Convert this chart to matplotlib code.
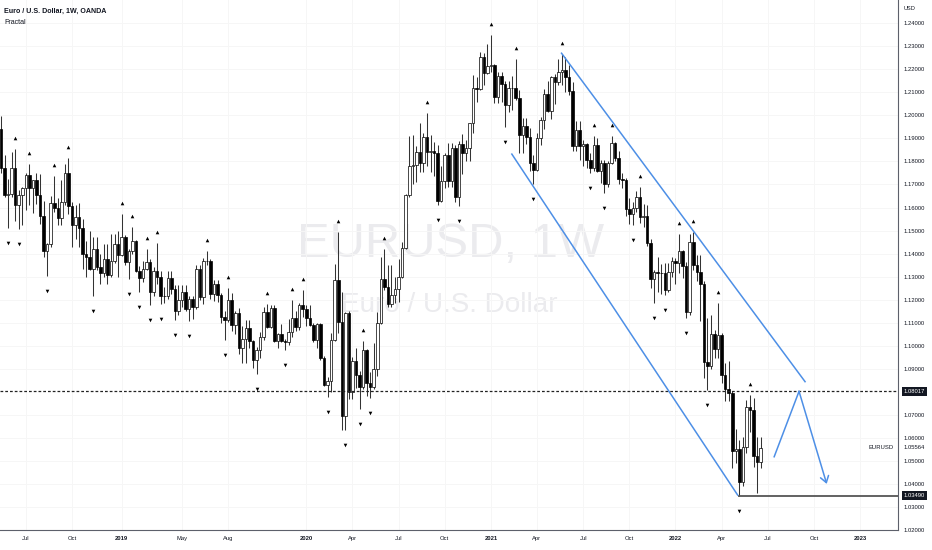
import numpy as np
import pandas as pd
import matplotlib
matplotlib.use("Agg")
import matplotlib.pyplot as plt
from matplotlib import font_manager, transforms

# Weekly EUR/USD candles, first bar = week of 2018-05-14
start_week = "2018-05-14"

opens = [
    # 2018
    1.1940, 1.1770, 1.1655, 1.1660, 1.1770, 1.1610, 1.1655, 1.1685, 1.1740, 1.1685,
    1.1720, 1.1655, 1.1565, 1.1410, 1.1440, 1.1620, 1.1600, 1.1555, 1.1625, 1.1750,
    1.1605, 1.1525, 1.1560, 1.1510, 1.1400, 1.1385, 1.1335, 1.1420, 1.1340, 1.1315,
    1.1375, 1.1305, 1.1370, 1.1440,
    # 2019
    1.1395, 1.1470, 1.1365, 1.1410, 1.1455, 1.1325, 1.1295, 1.1335, 1.1365, 1.1235,
    1.1325, 1.1300, 1.1215, 1.1215, 1.1295, 1.1245, 1.1150, 1.1200, 1.1235, 1.1160,
    1.1205, 1.1170, 1.1335, 1.1210, 1.1370, 1.1370, 1.1225, 1.1270, 1.1220, 1.1125,
    1.1110, 1.1200, 1.1090, 1.1140, 1.0990, 1.1030, 1.1075, 1.1020, 1.0940, 1.0980,
    1.1040, 1.1145, 1.1080, 1.1165, 1.1020, 1.1050, 1.1020, 1.1015, 1.1060, 1.1120,
    1.1080, 1.1175,
    # 2020
    1.1160, 1.1120, 1.1090, 1.1025, 1.1095, 1.0945, 1.0830, 1.0845, 1.1025, 1.1285,
    1.1105, 1.0695, 1.1140, 1.0800, 1.0935, 1.0875, 1.0820, 1.0980, 1.0840, 1.0820,
    1.0900, 1.1100, 1.1290, 1.1255, 1.1180, 1.1220, 1.1245, 1.1300, 1.1425, 1.1655,
    1.1780, 1.1785, 1.1840, 1.1795, 1.1905, 1.1840, 1.1845, 1.1835, 1.1630, 1.1715,
    1.1830, 1.1715, 1.1860, 1.1645, 1.1875, 1.1835, 1.1860, 1.1965, 1.2120, 1.2115,
    1.2255, 1.2185,
    # 2021
    1.2215, 1.2220, 1.2080, 1.2170, 1.2135, 1.2045, 1.2120, 1.2120, 1.2075, 1.1915,
    1.1955, 1.1905, 1.1795, 1.1765, 1.1900, 1.1980, 1.2095, 1.2020, 1.2165, 1.2145,
    1.2190, 1.2195, 1.2165, 1.2105, 1.1865, 1.1935, 1.1865, 1.1875, 1.1805, 1.1770,
    1.1870, 1.1760, 1.1795, 1.1700, 1.1795, 1.1880, 1.1815, 1.1725, 1.1720, 1.1595,
    1.1570, 1.1600, 1.1645, 1.1560, 1.1565, 1.1445, 1.1290, 1.1320, 1.1315, 1.1315,
    1.1240, 1.1320,
    # 2022
    1.1370, 1.1360, 1.1410, 1.1345, 1.1145, 1.1450, 1.1350, 1.1320, 1.1270, 1.0930,
    1.0910, 1.1050, 1.0985, 1.1045, 1.0875, 1.0810, 1.0795, 1.0545, 1.0550, 1.0410,
    1.0560, 1.0735, 1.0720, 1.0520, 1.0495,
]

highs = [
    # 2018
    1.1997, 1.1830, 1.1725, 1.1840, 1.1852, 1.1675, 1.1690, 1.1750, 1.1790, 1.1720,
    1.1750, 1.1745, 1.1630, 1.1445, 1.1650, 1.1735, 1.1640, 1.1720, 1.1790, 1.1815,
    1.1625, 1.1610, 1.1620, 1.1550, 1.1455, 1.1500, 1.1470, 1.1470, 1.1400, 1.1440,
    1.1440, 1.1485, 1.1485, 1.1500,
    # 2019
    1.1570, 1.1480, 1.1420, 1.1515, 1.1460, 1.1345, 1.1370, 1.1420, 1.1375, 1.1340,
    1.1448, 1.1325, 1.1255, 1.1325, 1.1325, 1.1265, 1.1265, 1.1265, 1.1265, 1.1215,
    1.1215, 1.1350, 1.1350, 1.1380, 1.1412, 1.1375, 1.1285, 1.1285, 1.1230, 1.1150,
    1.1250, 1.1230, 1.1150, 1.1165, 1.1085, 1.1110, 1.1110, 1.1025, 1.0995, 1.1060,
    1.1170, 1.1180, 1.1175, 1.1175, 1.1055, 1.1095, 1.1030, 1.1115, 1.1199, 1.1150,
    1.1185, 1.1240,
    # 2020
    1.1175, 1.1175, 1.1100, 1.1100, 1.1100, 1.0955, 1.0865, 1.1055, 1.1355, 1.1495,
    1.1235, 1.1145, 1.1150, 1.0950, 1.0990, 1.0890, 1.1020, 1.0985, 1.0885, 1.1010,
    1.1145, 1.1385, 1.1422, 1.1350, 1.1350, 1.1300, 1.1375, 1.1450, 1.1660, 1.1910,
    1.1915, 1.1865, 1.1965, 1.1925, 1.2011, 1.1915, 1.1885, 1.1870, 1.1780, 1.1835,
    1.1880, 1.1880, 1.1870, 1.1890, 1.1920, 1.1895, 1.1965, 1.2175, 1.2165, 1.2275,
    1.2270, 1.2310,
    # 2021
    1.2349, 1.2225, 1.2190, 1.2190, 1.2150, 1.2150, 1.2170, 1.2243, 1.2110, 1.1990,
    1.1990, 1.1945, 1.1830, 1.1925, 1.1995, 1.2115, 1.2150, 1.2170, 1.2180, 1.2245,
    1.2266, 1.2255, 1.2220, 1.2145, 1.1975, 1.1975, 1.1895, 1.1880, 1.1835, 1.1910,
    1.1900, 1.1805, 1.1805, 1.1800, 1.1910, 1.1885, 1.1845, 1.1750, 1.1730, 1.1640,
    1.1625, 1.1670, 1.1690, 1.1615, 1.1610, 1.1465, 1.1330, 1.1385, 1.1355, 1.1360,
    1.1360, 1.1385,
    # 2022
    1.1380, 1.1483, 1.1415, 1.1365, 1.1485, 1.1495, 1.1395, 1.1395, 1.1280, 1.1120,
    1.1135, 1.1070, 1.1185, 1.1055, 1.0925, 1.0935, 1.0805, 1.0640, 1.0590, 1.0605,
    1.0765, 1.0787, 1.0775, 1.0605, 1.0605,
]

lows = [
    # 2018
    1.1750, 1.1645, 1.1510, 1.1645, 1.1541, 1.1508, 1.1525, 1.1590, 1.1610, 1.1575,
    1.1615, 1.1530, 1.1385, 1.1301, 1.1430, 1.1580, 1.1525, 1.1525, 1.1610, 1.1570,
    1.1430, 1.1465, 1.1430, 1.1335, 1.1300, 1.1330, 1.1216, 1.1330, 1.1270, 1.1300,
    1.1270, 1.1300, 1.1360, 1.1300,
    # 2019
    1.1390, 1.1350, 1.1290, 1.1400, 1.1320, 1.1235, 1.1275, 1.1330, 1.1176, 1.1215,
    1.1270, 1.1180, 1.1185, 1.1205, 1.1225, 1.1110, 1.1135, 1.1170, 1.1150, 1.1107,
    1.1115, 1.1160, 1.1200, 1.1180, 1.1350, 1.1205, 1.1195, 1.1190, 1.1100, 1.1027,
    1.1105, 1.1065, 1.1050, 1.0965, 1.0925, 1.0925, 1.0990, 1.0905, 1.0879, 1.0945,
    1.1025, 1.1075, 1.1075, 1.1015, 1.0990, 1.1015, 1.0981, 1.1005, 1.1040, 1.1065,
    1.1070, 1.1125,
    # 2020
    1.1085, 1.1085, 1.1015, 1.0990, 1.0940, 1.0825, 1.0778, 1.0800, 1.1020, 1.1055,
    1.0636, 1.0635, 1.0770, 1.0770, 1.0815, 1.0727, 1.0810, 1.0780, 1.0775, 1.0810,
    1.0870, 1.1095, 1.1240, 1.1170, 1.1170, 1.1185, 1.1190, 1.1295, 1.1420, 1.1645,
    1.1700, 1.1710, 1.1755, 1.1755, 1.1780, 1.1755, 1.1735, 1.1612, 1.1625, 1.1685,
    1.1690, 1.1690, 1.1622, 1.1605, 1.1745, 1.1800, 1.1800, 1.1925, 1.2060, 1.2110,
    1.2130, 1.2180,
    # 2021
    1.2190, 1.2055, 1.2055, 1.2060, 1.1950, 1.2015, 1.2025, 1.2065, 1.1835, 1.1835,
    1.1875, 1.1760, 1.1704, 1.1760, 1.1870, 1.1940, 1.2015, 1.1985, 1.2050, 1.2130,
    1.2130, 1.2100, 1.2090, 1.1845, 1.1845, 1.1805, 1.1780, 1.1770, 1.1752, 1.1760,
    1.1755, 1.1705, 1.1664, 1.1690, 1.1790, 1.1800, 1.1700, 1.1685, 1.1565, 1.1530,
    1.1525, 1.1580, 1.1535, 1.1515, 1.1435, 1.1250, 1.1186, 1.1235, 1.1225, 1.1220,
    1.1235, 1.1300,
    # 2022
    1.1270, 1.1315, 1.1295, 1.1121, 1.1135, 1.1330, 1.1280, 1.1106, 1.0860, 1.0806,
    1.0900, 1.0945, 1.0945, 1.0840, 1.0760, 1.0760, 1.0470, 1.0490, 1.0349, 1.0390,
    1.0535, 1.0625, 1.0475, 1.0359, 1.0470,
]

closes = [
    # 2018
    1.1770, 1.1655, 1.1660, 1.1770, 1.1610, 1.1655, 1.1685, 1.1740, 1.1685, 1.1720,
    1.1655, 1.1565, 1.1410, 1.1440, 1.1620, 1.1600, 1.1555, 1.1625, 1.1750, 1.1605,
    1.1525, 1.1560, 1.1510, 1.1400, 1.1385, 1.1335, 1.1420, 1.1340, 1.1315, 1.1375,
    1.1305, 1.1370, 1.1440, 1.1395,
    # 2019
    1.1470, 1.1365, 1.1410, 1.1455, 1.1325, 1.1295, 1.1335, 1.1365, 1.1235, 1.1325,
    1.1300, 1.1215, 1.1215, 1.1295, 1.1245, 1.1150, 1.1200, 1.1235, 1.1160, 1.1205,
    1.1170, 1.1335, 1.1210, 1.1370, 1.1370, 1.1225, 1.1270, 1.1220, 1.1125, 1.1110,
    1.1200, 1.1090, 1.1140, 1.0990, 1.1030, 1.1075, 1.1020, 1.0940, 1.0980, 1.1040,
    1.1145, 1.1080, 1.1165, 1.1020, 1.1050, 1.1020, 1.1015, 1.1060, 1.1120, 1.1080,
    1.1175, 1.1160,
    # 2020
    1.1120, 1.1090, 1.1025, 1.1095, 1.0945, 1.0830, 1.0845, 1.1025, 1.1285, 1.1105,
    1.0695, 1.1140, 1.0800, 1.0935, 1.0875, 1.0820, 1.0980, 1.0840, 1.0820, 1.0900,
    1.1100, 1.1290, 1.1255, 1.1180, 1.1220, 1.1245, 1.1300, 1.1425, 1.1655, 1.1780,
    1.1785, 1.1840, 1.1795, 1.1905, 1.1840, 1.1845, 1.1835, 1.1630, 1.1715, 1.1830,
    1.1715, 1.1860, 1.1645, 1.1875, 1.1835, 1.1860, 1.1965, 1.2120, 1.2115, 1.2255,
    1.2185, 1.2215,
    # 2021
    1.2220, 1.2080, 1.2170, 1.2135, 1.2045, 1.2120, 1.2120, 1.2075, 1.1915, 1.1955,
    1.1905, 1.1795, 1.1765, 1.1900, 1.1980, 1.2095, 1.2020, 1.2165, 1.2145, 1.2190,
    1.2195, 1.2165, 1.2105, 1.1865, 1.1935, 1.1865, 1.1875, 1.1805, 1.1770, 1.1870,
    1.1760, 1.1795, 1.1700, 1.1795, 1.1880, 1.1815, 1.1725, 1.1720, 1.1595, 1.1570,
    1.1600, 1.1645, 1.1560, 1.1565, 1.1445, 1.1290, 1.1320, 1.1315, 1.1315, 1.1240,
    1.1320, 1.1370,
    # 2022
    1.1360, 1.1410, 1.1345, 1.1145, 1.1450, 1.1350, 1.1320, 1.1270, 1.0930, 1.0910,
    1.1050, 1.0985, 1.1045, 1.0875, 1.0810, 1.0795, 1.0545, 1.0550, 1.0410, 1.0560,
    1.0735, 1.0720, 1.0520, 1.0495, 1.0556,
]

# time axis labels (first weekly bar of the month)
tick_dates = ["2018-07-02", "2018-10-01", "2019-01-07", "2019-05-06", "2019-08-05",
              "2020-01-06", "2020-04-06", "2020-07-06", "2020-10-05", "2021-01-04",
              "2021-04-05", "2021-07-05", "2021-10-04", "2022-01-03", "2022-04-04",
              "2022-07-04", "2022-10-03", "2023-01-02"]
tick_labels = ["Jul", "Oct", "2019", "May", "Aug", "2020", "Apr", "Jul", "Oct", "2021",
               "Apr", "Jul", "Oct", "2022", "Apr", "Jul", "Oct", "2023"]

price_ticks = [1.02, 1.03, 1.04, 1.05, 1.06, 1.07, 1.09, 1.10, 1.11, 1.12, 1.13,
               1.14, 1.15, 1.16, 1.17, 1.18, 1.19, 1.20, 1.21, 1.22, 1.23, 1.24]

# drawings (bar index, price)
level_dashed = 1.08017
level_low = 1.0349
last_price = 1.05564
upper_x, upper_y = [157.9, 226.5], [1.2270, 1.0844]
lower_x, lower_y = [143.9, 207.5], [1.1832, 1.0352]
zig_x, zig_y = [217.8, 224.8, 232.6], [1.0518, 1.0802, 1.0400]

assert len(opens) == len(highs) == len(lows) == len(closes)

# fonts
available = {f.name for f in font_manager.fontManager.ttflist}
if "Liberation Sans Narrow" in available:
    FONT, K = "Liberation Sans Narrow", 1.0
else:
    FONT, K = "Liberation Sans", 0.82
plt.rcParams["font.family"] = [FONT, "DejaVu Sans"]

TXT = "#131722"
BLUE = "#4d8fe6"

o, h, l, c = map(np.array, (opens, highs, lows, closes))
n = len(c)
x = np.arange(n)
t0 = pd.Timestamp(start_week)
tick_pos = [(pd.Timestamp(d) - t0).days / 7 for d in tick_dates]

fig = plt.figure(figsize=(9.32, 5.5), dpi=100)
ax = fig.add_axes([0, 20 / 550, 898 / 932, 530 / 550])
ax.set_xlim(-0.28, 252.68)
ax.set_ylim(1.0200, 1.2501)

# watermark
ax.text(0.502, 0.515, "EURUSD, 1W", transform=ax.transAxes, ha="center", va="baseline",
        fontsize=43 * K, color="#ebebee", zorder=0)
ax.text(0.5, 0.411, "Euro / U.S. Dollar", transform=ax.transAxes, ha="center", va="baseline",
        fontsize=24.5 * K, color="#ebebee", zorder=0)

# candles
bull = c >= o
ax.vlines(x, l, h, color="#333333", lw=0.75, zorder=2)
ax.bar(x, np.abs(c - o), bottom=np.minimum(o, c), width=0.72,
       color=np.where(bull, "white", "black"), edgecolor="black", lw=0.5, zorder=3)

# Williams fractals (2 bars each side)
up_idx = [i for i in range(2, n - 2) if h[i] > h[i - 2:i].max() and h[i] > h[i + 1:i + 3].max()]
dn_idx = [i for i in range(2, n - 2) if l[i] < l[i - 2:i].min() and l[i] < l[i + 1:i + 3].min()]
up_tr = transforms.offset_copy(ax.transData, fig=fig, y=11, units="dots")
dn_tr = transforms.offset_copy(ax.transData, fig=fig, y=-15, units="dots")
ax.plot(up_idx, h[up_idx], ls="none", marker="^", ms=2.6, mew=0, color="black",
        transform=up_tr, zorder=4)
ax.plot(dn_idx, l[dn_idx], ls="none", marker="v", ms=2.6, mew=0, color="black",
        transform=dn_tr, zorder=4)

# levels
ax.axhline(level_dashed, color="#222222", lw=0.9, dashes=(2.2, 1.6), zorder=4)
ax.hlines(level_low, lower_x[1], ax.get_xlim()[1], color="#555555", lw=1.3, zorder=4)

# channel and projection
ax.plot(upper_x, upper_y, color=BLUE, lw=1.1, zorder=5)
ax.plot(lower_x, lower_y, color=BLUE, lw=1.1, zorder=5)
ax.plot(zig_x[:2], zig_y[:2], color=BLUE, lw=1.1, zorder=5)
ax.annotate("", xy=(zig_x[2], zig_y[2]), xytext=(zig_x[1], zig_y[1]),
            arrowprops=dict(arrowstyle="->,head_length=0.45,head_width=0.3", color=BLUE,
                            lw=1.1, shrinkA=0, shrinkB=0), zorder=5)

# axes styling
ax.yaxis.tick_right()
ax.set_yticks(price_ticks)
ax.set_yticklabels([f"{v:.5f}" for v in price_ticks])
ax.set_xticks(tick_pos)
ax.set_xticklabels(tick_labels)
for lab in ax.get_xticklabels():
    if lab.get_text().isdigit():
        lab.set_fontweight("bold")
ax.tick_params(axis="y", length=0, pad=4.3, labelsize=5.2 * K, labelcolor=TXT)
ax.tick_params(axis="x", length=0, pad=4.5, labelsize=5.2 * K, labelcolor=TXT)
ax.grid(True, color="#f6f6f6", lw=0.7)
ax.set_axisbelow(True)
for side in ["top", "left"]:
    ax.spines[side].set_visible(False)
for side in ["right", "bottom"]:
    ax.spines[side].set_color("#5d606b")
    ax.spines[side].set_linewidth(0.8)

# price tags
for val in [level_dashed, level_low]:
    ax.annotate(f"{val:.5f}", xy=(1, val), xycoords=("axes fraction", "data"),
                xytext=(4.3, 0), textcoords="offset points", ha="left", va="center",
                fontsize=5.2 * K, color="white", annotation_clip=False, zorder=10,
                bbox=dict(boxstyle="square,pad=0.35", fc=TXT, ec="none"))
ax.annotate(f"{last_price:.5f}", xy=(1, last_price), xycoords=("axes fraction", "data"),
            xytext=(4.3, 0), textcoords="offset points", ha="left", va="center",
            fontsize=5.2 * K, color=TXT, annotation_clip=False)
ax.annotate("EURUSD", xy=(1, last_price), xycoords=("axes fraction", "data"),
            xytext=(-3.5, 0.5), textcoords="offset points", ha="right", va="center",
            fontsize=5.2 * K, color=TXT, annotation_clip=False)

# header texts
fig.text(4 / 932, 1 - 13 / 550, "Euro / U.S. Dollar, 1W, OANDA", fontsize=6.3 * K,
         fontweight="bold", color=TXT, va="baseline")
fig.text(4 / 932, 1 - 24.5 / 550, "Fractal", fontsize=6.3 * K, color=TXT, va="baseline")
fig.text(904 / 932, 1 - 10 / 550, "USD", fontsize=5.0 * K, color=TXT, va="baseline")

fig.savefig("out.png", dpi=100, facecolor="white")
